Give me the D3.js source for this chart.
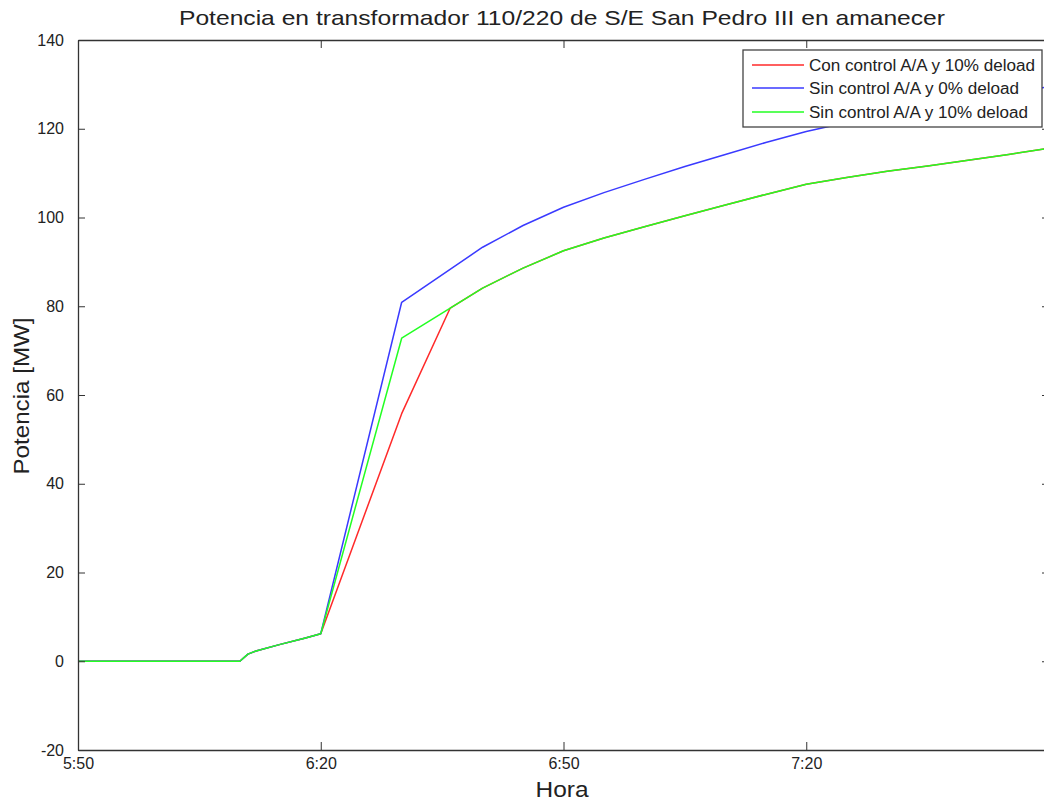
<!DOCTYPE html>
<html>
<head>
<meta charset="utf-8">
<script src="https://cdn.jsdelivr.net/npm/d3@7"></script>
<style>
  html, body { margin: 0; padding: 0; background: #fff; }
  svg { display: block; }
  text { font-family: "Liberation Sans", Arial, sans-serif; fill: #222; }
</style>
</head>
<body>
<svg id="chart" width="1044" height="803"></svg>
<script>
// ---- data ----
const title = "Potencia en transformador 110/220 de S/E San Pedro III en amanecer";
const xLabel = "Hora";
const yLabel = "Potencia [MW]";
const xTicks = ["5:50", "6:20", "6:50", "7:20"];
const xDomain = ["5:50", "7:50"];
const yTicks = [-20, 0, 20, 40, 60, 80, 100, 120, 140];
const seriesNames = ["Con control A/A y 10% deload", "Sin control A/A y 0% deload", "Sin control A/A y 10% deload"];
const seriesColors = ["#ff2a2a", "#3a3aff", "#22ff22"];

const timesMain = ["5:50","6:10","6:11","6:12","6:15","6:18","6:20","6:30","6:40","6:45","6:50","6:55","7:00","7:05","7:10","7:15","7:20","7:25","7:30","7:35","7:40","7:45","7:50"];
const blueValues = [0,0,1.6,2.3,3.8,5.2,6.2,80.9,93.3,98.2,102.3,105.6,108.6,111.5,114.2,116.9,119.4,121.4,123.1,124.8,126.3,127.9,129.5];
const greenValues = [0,0,1.6,2.3,3.8,5.2,6.2,72.8,84.1,88.6,92.5,95.4,97.9,100.4,102.8,105.2,107.5,109.0,110.4,111.6,112.9,114.2,115.6];
const timesRed = ["5:50","6:10","6:11","6:12","6:15","6:18","6:20","6:30","6:36","6:40","6:45","6:50","6:55","7:00","7:05","7:10","7:15","7:20","7:25","7:30","7:35","7:40","7:45","7:50"];
const redValues = [0,0,1.6,2.3,3.8,5.2,6.2,55.8,79.6,84.1,88.6,92.5,95.4,97.9,100.4,102.8,105.2,107.5,109.0,110.4,111.6,112.9,114.2,115.6];

// ---- layout ----
const parse = d3.timeParse("%H:%M");
const pL = 78, pR = 1049, pT = 40, pB = 750;

const svg = d3.select("#chart");
const x = d3.scaleTime().domain(xDomain.map(parse)).range([pL, pR]);
const y = d3.scaleLinear().domain([-20, 140]).range([pB, pT]);

svg.append("defs").append("clipPath").attr("id", "plotclip")
  .append("rect").attr("x", pL).attr("y", pT).attr("width", pR - pL).attr("height", pB - pT);

// lines (red, blue, green order so green is on top)
const series = [
  { t: timesRed, v: redValues, c: seriesColors[0] },
  { t: timesMain, v: blueValues, c: seriesColors[1] },
  { t: timesMain, v: greenValues, c: seriesColors[2] }
];
const line = d3.line().x(d => x(d[0])).y(d => y(d[1]));
const g = svg.append("g").attr("clip-path", "url(#plotclip)");
series.forEach(s => {
  const pts = s.t.map((tt, i) => [parse(tt), s.v[i]]);
  g.append("path").datum(pts).attr("d", line)
    .attr("fill", "none").attr("stroke", s.c).attr("stroke-width", 1.5)
    .attr("stroke-linejoin", "round");
});

// axes (MATLAB style: ticks inward on all sides)
const tickFmt = d3.timeFormat("%-H:%M");
const axColor = "#333";
const xb = svg.append("g").attr("transform", `translate(0,${pB})`)
  .call(d3.axisBottom(x).tickValues(xTicks.map(parse)).tickSizeInner(-8).tickSizeOuter(0).tickPadding(8).tickFormat(tickFmt));
const xt = svg.append("g").attr("transform", `translate(0,${pT})`)
  .call(d3.axisTop(x).tickValues(xTicks.map(parse)).tickSizeInner(-8).tickSizeOuter(0).tickFormat(""));
const yl = svg.append("g").attr("transform", `translate(${pL},0)`)
  .call(d3.axisLeft(y).tickValues(yTicks).tickSizeInner(-7).tickSizeOuter(0).tickPadding(14).tickFormat(d => String(d)));
const yr = svg.append("g").attr("transform", `translate(${pR},0)`)
  .call(d3.axisRight(y).tickValues(yTicks).tickSizeInner(-7).tickSizeOuter(0).tickFormat(""));
[xb, xt, yl, yr].forEach(a => {
  a.select(".domain").attr("stroke", axColor).attr("stroke-width", 1.3);
  a.selectAll(".tick line").attr("stroke", axColor).attr("stroke-width", 1);
  a.selectAll(".tick text").attr("font-size", 16).attr("fill", "#222")
    .style("font-family", '"Liberation Sans", Arial, sans-serif');
});
xb.selectAll(".tick text").attr("dy", "0.71em");

// title & labels
svg.append("text").attr("x", 562).attr("y", 25).attr("text-anchor", "middle")
  .attr("font-size", 21).attr("textLength", 766).attr("lengthAdjust", "spacingAndGlyphs").text(title);
svg.append("text").attr("x", 562).attr("y", 797).attr("text-anchor", "middle")
  .attr("font-size", 22).attr("textLength", 53).attr("lengthAdjust", "spacingAndGlyphs").text(xLabel);
svg.append("text").attr("transform", "translate(29,396) rotate(-90)").attr("text-anchor", "middle")
  .attr("font-size", 22).attr("textLength", 157).attr("lengthAdjust", "spacingAndGlyphs").text(yLabel);

// legend
const lg = svg.append("g");
lg.append("rect").attr("x", 743).attr("y", 50).attr("width", 299).attr("height", 77)
  .attr("fill", "#fff").attr("stroke", "#444").attr("stroke-width", 1.3);
const rowsY = [65, 88, 112];
const textW = [226, 210, 219];
seriesNames.forEach((n, i) => {
  lg.append("line").attr("x1", 752).attr("x2", 804).attr("y1", rowsY[i]).attr("y2", rowsY[i])
    .attr("stroke", seriesColors[i]).attr("stroke-width", 1.5);
  lg.append("text").attr("x", 809).attr("y", rowsY[i]).attr("dy", "0.36em")
    .attr("font-size", 16).attr("textLength", textW[i]).attr("lengthAdjust", "spacingAndGlyphs").text(n);
});
</script>
</body>
</html>
